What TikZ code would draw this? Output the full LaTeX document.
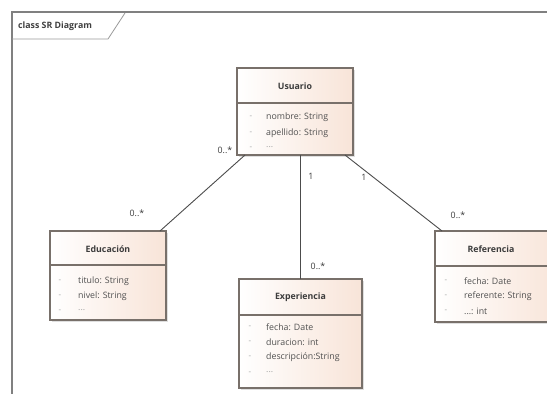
\documentclass[tikz,border=0pt]{standalone}
\usepackage{fontspec}
\setmainfont{Open Sans}
\usetikzlibrary{calc,shadows}
\definecolor{framegray}{RGB}{128,128,128}
\definecolor{boxedge}{RGB}{120,112,106}
\definecolor{peach}{RGB}{248,228,216}
\definecolor{txt}{RGB}{60,60,60}
\definecolor{faint}{RGB}{165,165,165}
\tikzset{
  classbox/.style={draw=boxedge, line width=1.1pt, rectangle, inner sep=0pt, outer sep=0pt,
    anchor=north west, left color=white, right color=peach,
    drop shadow={opacity=0.25, shadow xshift=1.5pt, shadow yshift=-1.5pt}},
  sepline/.style={draw=boxedge, line width=1.1pt},
  classtitle/.style={font=\fontsize{8.8}{10}\selectfont\bfseries, text=txt, inner sep=0pt},
  attr/.style={font=\fontsize{8.8}{10}\selectfont, text=txt!90, anchor=west, inner sep=0pt},
  attrdash/.style={font=\fontsize{8}{10}\selectfont, text=faint, inner sep=0pt},
  assoc/.style={draw=black!70, line width=0.9pt},
  mult/.style={font=\fontsize{8.8}{10}\selectfont, text=txt, inner sep=0pt},
}
\begin{document}
\begin{tikzpicture}[x=1pt,y=-1pt]
  \useasboundingbox (0,0) rectangle (547,394);
  \fill[white] (0,0) rectangle (547,394);

  % diagram frame and its name tab
  \draw[framegray, line width=1.8pt] (12,394) -- (12,12) -- (547,12);
  \draw[framegray!80, line width=0.8pt] (12,39) -- (108,39) -- (125,13);
  \node[font=\fontsize{8.8}{10}\selectfont\bfseries, text=black!75, anchor=west, inner sep=0pt] (frametitle) at (18,26) {class SR Diagram};

  % Usuario
  \node[classbox, minimum width=116, minimum height=87] (usuario) at (237,68) {};
  \draw[sepline] (usuario.west |- 0,103) -- (usuario.east |- 0,103);
  \node[classtitle] (usuarioT) at (usuario.north |- 0,86) {Usuario};
  \node[attrdash] (u1d) at (251,117) {-};
  \node[attrdash] (u2d) at (251,133) {-};
  \node[attrdash] (u3d) at (251,148) {-};
  \node[attr] (u1) at (266,117) {nombre: String};
  \node[attr] (u2) at (266,133) {apellido: String};
  \node[attr, text=faint] (u3) at (266,147) {...};

  % Educación
  \node[classbox, minimum width=116, minimum height=89] (educacion) at (50,231) {};
  \draw[sepline] (educacion.west |- 0,265) -- (educacion.east |- 0,265);
  \node[classtitle] (educacionT) at (educacion.north |- 0,249) {Educación};
  \node[attrdash] (e1d) at (60,281) {-};
  \node[attrdash] (e2d) at (60,296) {-};
  \node[attrdash] (e3d) at (60,311) {-};
  \node[attr] (e1) at (78,281) {titulo: String};
  \node[attr] (e2) at (78,296) {nivel: String};
  \node[attr, text=faint] (e3) at (78,310) {...};

  % Experiencia
  \node[classbox, minimum width=123, minimum height=109] (experiencia) at (239,279) {};
  \draw[sepline] (experiencia.west |- 0,315) -- (experiencia.east |- 0,315);
  \node[classtitle] (experienciaT) at (experiencia.north |- 0,297) {Experiencia};
  \node[attrdash] (x1d) at (250,327) {-};
  \node[attrdash] (x2d) at (250,342) {-};
  \node[attrdash] (x3d) at (250,357) {-};
  \node[attrdash] (x4d) at (250,373) {-};
  \node[attr] (x1) at (266,327) {fecha: Date};
  \node[attr] (x2) at (266,342) {duracion: int};
  \node[attr] (x3) at (266,357) {descripción:String};
  \node[attr, text=faint] (x4) at (266,372) {...};

  % Referencia
  \node[classbox, minimum width=125, minimum height=91] (referencia) at (435,231) {};
  \draw[sepline] (referencia.west |- 0,266) -- (referencia.east |- 0,266);
  \node[classtitle] (referenciaT) at (491,249) {Referencia};
  \node[attrdash] (r1d) at (446,281) {-};
  \node[attrdash] (r2d) at (446,296) {-};
  \node[attrdash] (r3d) at (446,311) {-};
  \node[attr] (r1) at (464,281) {fecha: Date};
  \node[attr] (r2) at (464,296) {referente: String};
  \node[attr] (r3) at (464,311) {...: int};

  % associations
  \draw[assoc] ($(usuario.south west)+(8,0)$) -- ($(educacion.north east)+(-6,0)$);
  \draw[assoc] (experiencia.north) -- (experiencia.north |- usuario.south);
  \draw[assoc] ($(usuario.south east)+(-8,0)$) -- ($(referencia.north west)+(7,0)$);

  % multiplicities
  \node[mult] (m1) at (225,150) {0..*};
  \node[mult] (m2) at (137,213) {0..*};
  \node[mult] (m3) at (311,176) {1};
  \node[mult] (m4) at (364,177) {1};
  \node[mult] (m5) at (318,266) {0..*};
  \node[mult] (m6) at (458,215) {0..*};
\end{tikzpicture}
\end{document}
